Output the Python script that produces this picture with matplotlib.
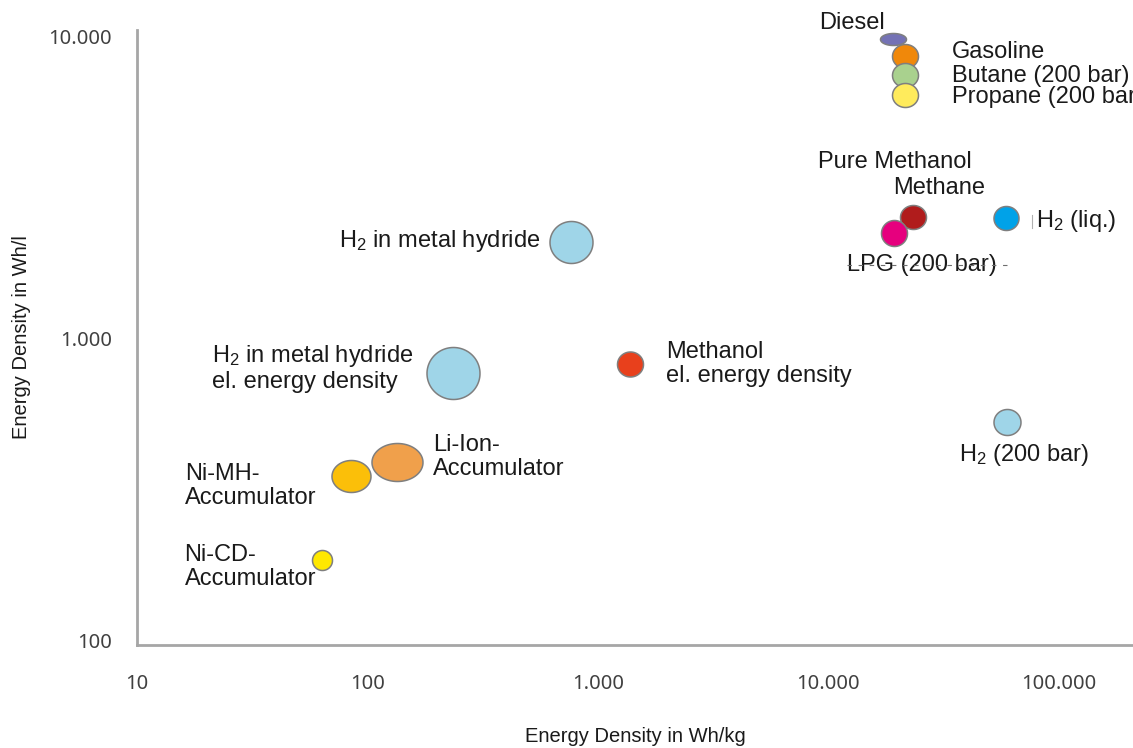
import numpy as np
import matplotlib
matplotlib.use("Agg")
import matplotlib.pyplot as plt
from matplotlib.path import Path
from matplotlib.transforms import ScaledTranslation

plt.rcParams['font.family'] = ['Liberation Sans', 'DejaVu Sans']
plt.rcParams['mathtext.fontset'] = 'custom'
plt.rcParams['mathtext.rm'] = 'Liberation Sans'
plt.rcParams['mathtext.it'] = 'Liberation Sans:italic'

# energy carriers: gravimetric (Wh/kg) and volumetric (Wh/l) density
names = ["Diesel", "Gasoline", "Butane", "Propane", "Methane", "LPG", "H2 liq",
         "H2 metal hydride", "H2 metal hydride el.", "Methanol el.", "H2 200 bar",
         "Li-Ion", "Ni-MH", "Ni-CD"]
wh_kg = [19100, 21540, 21540, 21540, 23330, 19300, 58850,
         766, 235, 1380, 59980, 135, 85.3, 63.6]
wh_l = [10190, 8900, 7700, 6650, 2612, 2312, 2595,
        2158, 796, 852, 547, 404, 363, 191]
# bubble width / height in px
bub_w = [26, 26, 26, 26, 26, 26, 25, 43, 53, 26, 27, 51, 39, 20]
bub_h = [12, 24, 24, 24, 24, 26, 24, 42, 52, 25, 26, 38, 32, 20]
colors = ["#7472b5", "#f0880a", "#a9d18e", "#ffeb5c", "#b01c1c", "#e6007e", "#00a2e8",
          "#9fd5e8", "#9fd5e8", "#e8401c", "#9fd5e8", "#f0a04b", "#fbbf09", "#ffe800"]

# label text, anchor point index, offset (px), ha
labels = [
    ("Diesel", 0, (-8, 16), 'right'),
    ("Gasoline", 1, (47, 4), 'left'),
    ("Butane (200 bar)", 2, (47, -1), 'left'),
    ("Propane (200 bar)", 3, (47, -2), 'left'),
    ("Pure Methanol", 4, (-95, 55), 'left'),
    ("Methane", 4, (26, 29), 'center'),
    ("LPG (200 bar)", 5, (-47, -32), 'left'),
    ("H$_2$ (liq.)", 6, (30, -3), 'left'),
    ("H$_2$ in metal hydride", 7, (-31, 1), 'right'),
    ("H$_2$ in metal hydride\nel. energy density", 8, (-39, 5), 'right'),
    ("Methanol\nel. energy density", 9, (36, 0), 'left'),
    ("H$_2$ (200 bar)", 10, (17, -33), 'center'),
    ("Li-Ion-\nAccumulator", 11, (36, 5), 'left'),
    ("Ni-MH-\nAccumulator", 12, (-35, -10), 'right'),
    ("Ni-CD-\nAccumulator", 13, (-6, -7), 'right'),
]

x_ticks = [10, 100, 1000, 10000, 100000]
x_ticklabels = ["10", "100", "1.000", "10.000", "100.000"]
y_ticks = [100, 1000, 10000]
y_ticklabels = ["100", "1.000", "10.000"]

fig = plt.figure(figsize=(11.33, 7.48), dpi=100)
ax = fig.add_axes([137/1133, 1-645/748, 996/1133, 615/748])
ax.set_xscale('log')
ax.set_yscale('log')
ax.set_xlim(10, 10**(1 + 996/230.4))
ax.set_ylim(100, 10**(2 + 615/302))

theta = np.linspace(0, 2*np.pi, 120)
for i in range(len(names)):
    verts = np.column_stack([np.cos(theta), bub_h[i]/bub_w[i]*np.sin(theta)])
    ax.plot(wh_kg[i], wh_l[i], marker=Path(verts), markersize=bub_w[i]*0.72,
            mfc=colors[i], mec="#7f7f7f", mew=1.1, linestyle='none',
            zorder=3+i, clip_on=False)

for txt, i, off, ha in labels:
    ax.annotate(txt, (wh_kg[i], wh_l[i]), xytext=(off[0]*0.72, off[1]*0.72),
                textcoords='offset points', ha=ha, va='center',
                multialignment='left', fontsize=17, color="#1a1a1a",
                linespacing=1.1, annotation_clip=False, zorder=20)

# stray leftovers: dashed line through the LPG label, tick before H2 (liq.)
ly = wh_l[5] * 10**(-32/302)
ax.plot([wh_kg[5]*10**(-47/230.4), wh_kg[5]*10**(116/230.4)], [ly, ly],
        color="#6e6e6e", lw=0.8, linestyle=(0, (4, 6)), zorder=21)
lx = wh_kg[6] * 10**(26.5/230.4)
ax.plot([lx, lx], [wh_l[6]*10**(3/302), wh_l[6]*10**(-10/302)],
        color="#b0b0b0", lw=0.8, zorder=21)

for s in ['top', 'right']:
    ax.spines[s].set_visible(False)
for s in ['left', 'bottom']:
    ax.spines[s].set_color("#a6a6a6")
    ax.spines[s].set_linewidth(2)

ax.xaxis.set_major_locator(matplotlib.ticker.FixedLocator(x_ticks))
ax.yaxis.set_major_locator(matplotlib.ticker.FixedLocator(y_ticks))
ax.xaxis.set_minor_locator(matplotlib.ticker.NullLocator())
ax.yaxis.set_minor_locator(matplotlib.ticker.NullLocator())
ax.set_xticklabels(x_ticklabels)
ax.set_yticklabels(y_ticklabels)
ax.tick_params(axis='both', length=0, labelcolor="#404040", labelsize=14.5)
ax.tick_params(axis='x', pad=21)
ax.tick_params(axis='y', pad=18)
for lab in ax.get_xticklabels() + ax.get_yticklabels():
    lab.set_family(['Noto Sans', 'DejaVu Sans'])
for lab in ax.get_yticklabels():
    lab.set_transform(lab.get_transform() + ScaledTranslation(0, 4/100, fig.dpi_scale_trans))

ax.set_xlabel("Energy Density in Wh/kg", fontsize=14.5, color="#1a1a1a", labelpad=23.5)
ax.set_ylabel("Energy Density in Wh/l", fontsize=14.5, color="#1a1a1a", labelpad=12.5)

fig.savefig("out.png", dpi=100)
